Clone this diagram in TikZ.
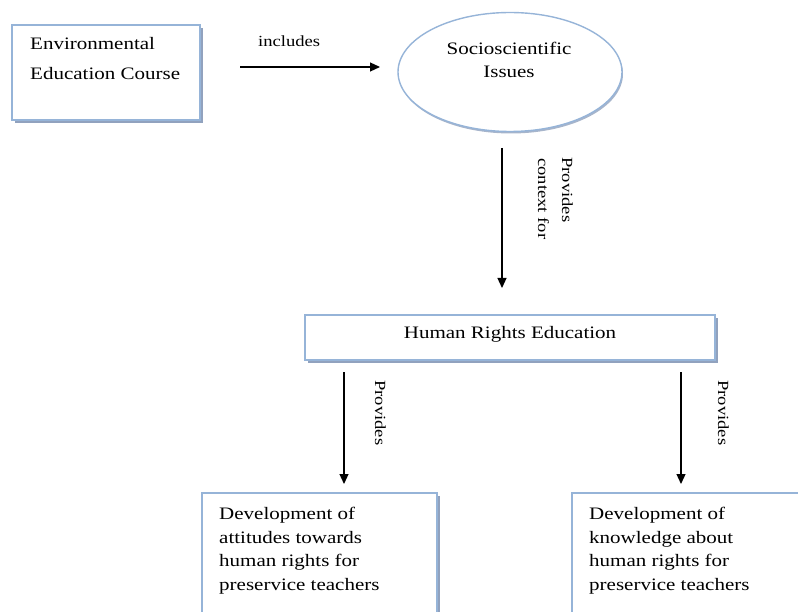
\documentclass[tikz,border=0pt]{standalone}
\usepackage{fontspec}
\setmainfont[FakeStretch=1.2]{Liberation Serif}
\usetikzlibrary{arrows.meta,shapes.geometric,shadows}
\definecolor{edgeblue}{RGB}{150,180,216}
\definecolor{shadowblue}{RGB}{145,162,190}
\tikzset{
  boxshape/.style={draw=edgeblue, line width=1.4pt, fill=white, rectangle, inner sep=0pt,
    drop shadow={shadow xshift=3pt, shadow yshift=-3pt, fill=shadowblue, opacity=1}},
  ovalshape/.style={draw=edgeblue, line width=1.4pt, fill=white, ellipse, inner sep=0pt,
    drop shadow={shadow xshift=1pt, shadow yshift=-2pt, fill=shadowblue, opacity=0.8}},
  maintext/.style={inner sep=0pt, font=\fontsize{17.5}{23.5}\selectfont, align=left},
  labeltext/.style={inner sep=0pt, font=\fontsize{15.5}{18}\selectfont},
  flow/.style={line width=1.2pt, -{Triangle[length=10pt,width=9pt]}}
}
\begin{document}
\begin{tikzpicture}[x=1pt,y=-1pt]
\useasboundingbox (0,0) rectangle (798,612);
\clip (0,0) rectangle (798,612);
% boxes
\node[boxshape, minimum width=188pt, minimum height=95pt] (env) at (106,72.5) {};
\node[ovalshape, minimum width=224pt, minimum height=119pt] (ssi) at (510,72) {};
\node[boxshape, minimum width=410pt, minimum height=45pt] (hre) at (510,337.5) {};
\node[boxshape, minimum width=235pt, minimum height=140pt] (att) at (319.5,563) {};
\node[boxshape, minimum width=240pt, minimum height=140pt] (know) at (692,563) {};
% texts (base anchor = baseline of last line)
\node[maintext, anchor=base west] (envt) at (30,80) {Environmental\\[6.5pt]Education Course};
\node[maintext, anchor=base, align=center] (ssit) at (509,78) {Socioscientific\\Issues};
\node[maintext, anchor=base] (hret) at (510,339) {Human Rights Education};
\node[maintext, anchor=base west] (attt) at (219,590) {Development of\\attitudes towards\\human rights for\\preservice teachers};
\node[maintext, anchor=base west] (knowt) at (589,590) {Development of\\knowledge about\\human rights for\\preservice teachers};
% connector ends
\coordinate (a1s) at (240,67);
\coordinate (a1e) at (380,67);
\coordinate (a2s) at (502,148);
\coordinate (a2e) at (502,288);
\coordinate (a3s) at (344,372);
\coordinate (a3e) at (344,484);
\coordinate (a4s) at (681,372);
\coordinate (a4e) at (681,484);
\draw[flow] (a1s) -- (a1e);
\draw[flow] (a2s) -- (a2e);
\draw[flow] (a3s) -- (a3e);
\draw[flow] (a4s) -- (a4e);
% labels
\node[labeltext, anchor=base west] (inc) at (258,47) {includes};
\node[labeltext, anchor=base west, rotate=-90] (prov1) at (562,157) {Provides};
\node[labeltext, anchor=base west, rotate=-90] (ctx) at (538,158) {context for};
\node[labeltext, anchor=base west, rotate=-90] (prov2) at (375,380) {Provides};
\node[labeltext, anchor=base west, rotate=-90] (prov3) at (718,380) {Provides};
\end{tikzpicture}
\end{document}
